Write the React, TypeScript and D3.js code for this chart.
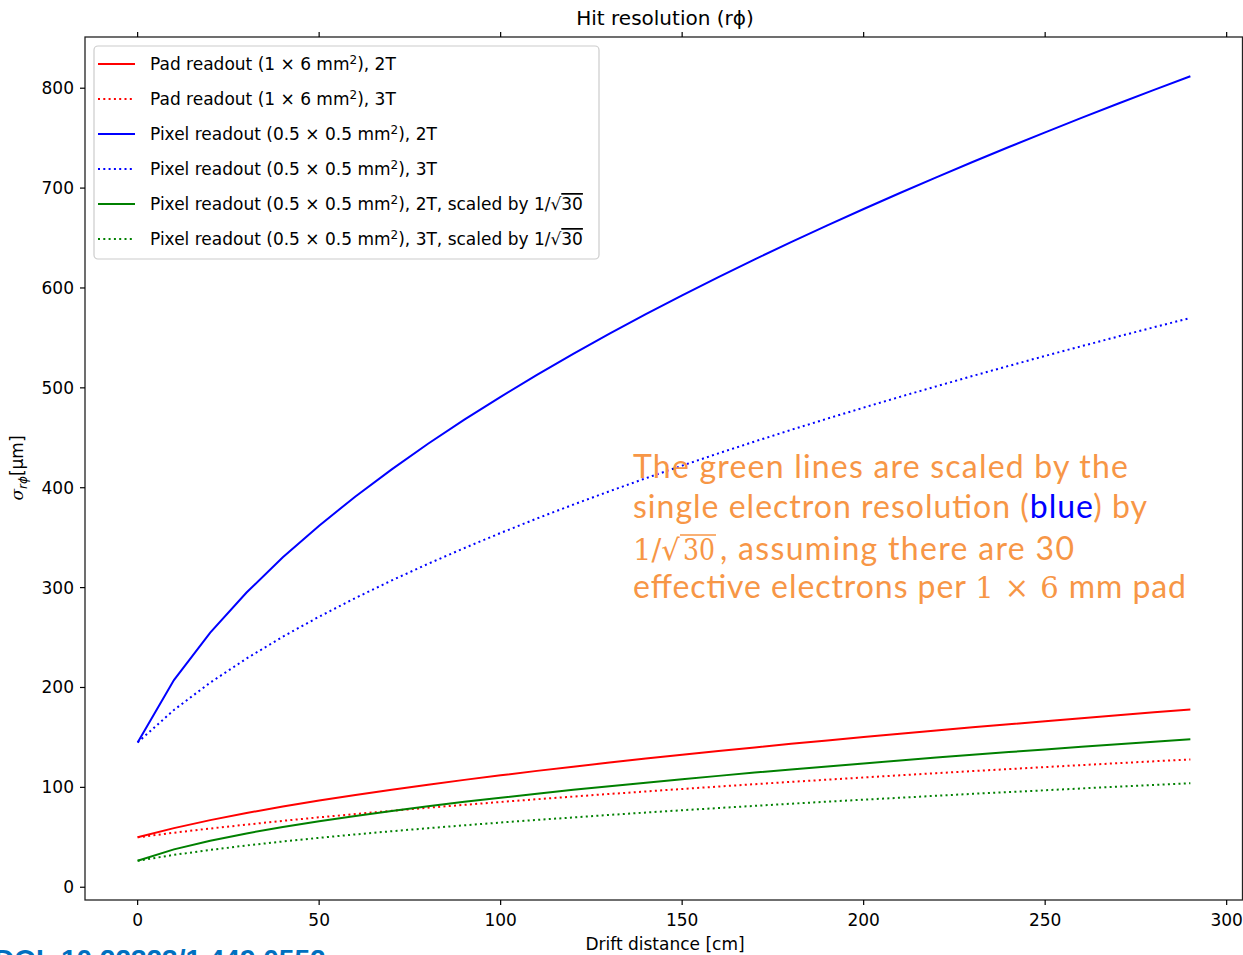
import React from 'react';
import * as d3 from 'd3';

// drift distance [cm]
const distance = [0, 10, 20, 30, 40, 50, 60, 70, 80, 90, 100, 110, 120, 130, 140, 150, 160, 170, 180, 190, 200, 210, 220, 230, 240, 250, 260, 270, 280, 290];

// sigma_rphi [um]
const padReadout2T = [50.0, 59.2, 67.2, 74.3, 80.8, 86.8, 92.4, 97.7, 102.7, 107.5, 112.1, 116.5, 120.7, 124.8, 128.8, 132.6, 136.4, 140.0, 143.6, 147.0, 150.4, 153.7, 156.9, 160.1, 163.2, 166.3, 169.3, 172.2, 175.1, 178.0];
const padReadout3T = [50.0, 54.6, 58.8, 62.7, 66.5, 70.0, 73.3, 76.5, 79.6, 82.5, 85.4, 88.1, 90.8, 93.4, 95.9, 98.4, 100.8, 103.2, 105.5, 107.7, 109.9, 112.1, 114.2, 116.3, 118.3, 120.3, 122.3, 124.2, 126.1, 128.0];
const pixelReadout2T = [145.0, 207.4, 255.0, 295.1, 330.3, 362.0, 391.3, 418.4, 444.0, 468.1, 491.0, 513.0, 534.0, 554.2, 573.7, 592.6, 610.9, 628.6, 645.9, 662.7, 679.1, 695.1, 710.8, 726.1, 741.1, 755.8, 770.3, 784.4, 798.3, 812.0];
const pixelReadout3T = [145.0, 177.5, 204.9, 229.0, 250.9, 270.9, 289.6, 307.2, 323.8, 339.6, 354.7, 369.2, 383.1, 396.5, 409.5, 422.1, 434.4, 446.3, 457.9, 469.2, 480.2, 491.0, 501.5, 511.9, 522.0, 532.0, 541.7, 551.3, 560.7, 570.0];
const pixelScaled2T = [26.5, 37.9, 46.6, 53.9, 60.3, 66.1, 71.4, 76.4, 81.1, 85.5, 89.6, 93.7, 97.5, 101.2, 104.7, 108.2, 111.5, 114.8, 117.9, 121.0, 124.0, 126.9, 129.8, 132.6, 135.3, 138.0, 140.6, 143.2, 145.7, 148.2];
const pixelScaled3T = [26.5, 32.4, 37.4, 41.8, 45.8, 49.5, 52.9, 56.1, 59.1, 62.0, 64.8, 67.4, 69.9, 72.4, 74.8, 77.1, 79.3, 81.5, 83.6, 85.7, 87.7, 89.6, 91.6, 93.5, 95.3, 97.1, 98.9, 100.7, 102.4, 104.1];

const xTicks = [0, 50, 100, 150, 200, 250, 300];
const yTicks = [0, 100, 200, 300, 400, 500, 600, 700, 800];

const W = 1243;
const H = 955;
const plot = { left: 85, right: 1243, top: 37, bottom: 900 };
const FONT = "'DejaVu Sans', sans-serif";
const FS = 17;

type Kind = 'pad' | 'pixel' | 'scaled';
const series: { values: number[]; color: string; dotted: boolean; kind: Kind; field: string }[] = [
  { values: padReadout2T, color: '#ff0000', dotted: false, kind: 'pad', field: '2T' },
  { values: padReadout3T, color: '#ff0000', dotted: true, kind: 'pad', field: '3T' },
  { values: pixelReadout2T, color: '#0000ff', dotted: false, kind: 'pixel', field: '2T' },
  { values: pixelReadout3T, color: '#0000ff', dotted: true, kind: 'pixel', field: '3T' },
  { values: pixelScaled2T, color: '#008000', dotted: false, kind: 'scaled', field: '2T' },
  { values: pixelScaled3T, color: '#008000', dotted: true, kind: 'scaled', field: '3T' },
];

function withMargin(lo: number, hi: number): [number, number] {
  const pad = (hi - lo) * 0.05;
  return [lo - pad, hi + pad];
}

const LegendLabel: React.FC<{ kind: Kind; field: string }> = ({ kind, field }) => {
  const size = kind === 'pad' ? '1 × 6 mm' : '0.5 × 0.5 mm';
  const name = kind === 'pad' ? 'Pad readout (' : 'Pixel readout (';
  return (
    <>
      {name}{size}
      <tspan dy={-6} fontSize={12}>2</tspan>
      <tspan dy={6}>{`), ${field}`}</tspan>
      {kind === 'scaled' && (
        <>
          <tspan>, scaled by 1/√</tspan>
          <tspan style={{ textDecoration: 'overline' }}>30</tspan>
        </>
      )}
    </>
  );
};

export default function App() {
  const allY = series.flatMap((s) => s.values);
  const x = d3.scaleLinear().domain(withMargin(d3.min(distance)!, d3.max(distance)!)).range([plot.left, plot.right]);
  const y = d3.scaleLinear().domain(withMargin(d3.min(allY)!, d3.max(allY)!)).range([plot.bottom, plot.top]);

  const line = d3
    .line<number>()
    .x((_, i) => x(distance[i]))
    .y((d) => y(d));

  const orange = '#f79646';
  const serif = "'DejaVu Serif', serif";

  return (
    <svg width={W} height={H} style={{ position: 'absolute', left: 0, top: 0, background: '#fff' }} fontFamily={FONT}>
      <rect x={0} y={0} width={W} height={H} fill="#fff" />

      {/* title */}
      <text x={665} y={25} textAnchor="middle" fontSize={20} fill="#000">Hit resolution (rϕ)</text>

      {/* curves */}
      <g fill="none" strokeWidth={2}>
        {series.map((s, i) => (
          <path key={i} d={line(s.values) || ''} stroke={s.color} strokeDasharray={s.dotted ? '2 3.3' : undefined} />
        ))}
      </g>

      {/* frame */}
      <rect x={plot.left} y={plot.top} width={plot.right - plot.left - 0.5} height={plot.bottom - plot.top} fill="none" stroke="#222" strokeWidth={1.3} />

      {/* x ticks bottom + top */}
      <g fontSize={FS} fill="#000" textAnchor="middle">
        {xTicks.map((t) => (
          <g key={t}>
            <line x1={x(t)} x2={x(t)} y1={plot.bottom} y2={plot.bottom + 5} stroke="#000" strokeWidth={1.2} />
            <line x1={x(t)} x2={x(t)} y1={plot.top} y2={plot.top - 5} stroke="#000" strokeWidth={1.2} />
            <text x={x(t)} y={plot.bottom + 26}>{t}</text>
          </g>
        ))}
      </g>

      {/* y ticks */}
      <g fontSize={FS} fill="#000" textAnchor="end">
        {yTicks.map((t) => (
          <g key={t}>
            <line x1={plot.left - 5} x2={plot.left} y1={y(t)} y2={y(t)} stroke="#000" strokeWidth={1.2} />
            <text x={plot.left - 11} y={y(t) + 6}>{t}</text>
          </g>
        ))}
      </g>

      {/* axis labels */}
      <text x={665} y={950} textAnchor="middle" fontSize={FS} fill="#000">Drift distance [cm]</text>
      <text transform="translate(23,468) rotate(-90)" textAnchor="middle" fontSize={FS} fill="#000">
        <tspan fontStyle="italic" fontFamily={serif}>σ</tspan>
        <tspan dy={4} fontSize={12} fontStyle="italic">rϕ</tspan>
        <tspan dy={-4}>[μm]</tspan>
      </text>

      {/* legend */}
      <g>
        <rect x={94} y={46} width={505} height={213} rx={4} fill="#fff" fillOpacity={0.8} stroke="#cccccc" strokeWidth={1.2} />
        {series.map((s, i) => {
          const cy = 64 + i * 35;
          return (
            <g key={i}>
              <line x1={98} x2={135} y1={cy} y2={cy} stroke={s.color} strokeWidth={2} strokeDasharray={s.dotted ? '2 3.3' : undefined} />
              <text x={150} y={cy + 6} fontSize={FS} fill="#000">
                <LegendLabel kind={s.kind} field={s.field} />
              </text>
            </g>
          );
        })}
      </g>

      {/* annotation */}
      <g fontFamily="'Comic Sans MS', Lato, sans-serif" fontSize={32} fill={orange}>
        <text x={633} y={478} textLength={495} lengthAdjust="spacing">The green lines are scaled by the</text>
        <text x={633} y={518} textLength={514} lengthAdjust="spacing">
          single electron resolution (<tspan fill="#0000ff">blue</tspan>) by
        </text>
        <text x={633} y={560} fontFamily={serif} fontSize={29}>1/√</text>
        <text x={683} y={560} fontFamily={serif} fontSize={29} textLength={32} lengthAdjust="spacingAndGlyphs">30</text>
        <line x1={680} x2={716} y1={535} y2={535} stroke={orange} strokeWidth={1.6} />
        <text x={720} y={560} textLength={354} lengthAdjust="spacing">, assuming there are 30</text>
        <text x={633} y={598} textLength={553} lengthAdjust="spacing">
          effective electrons per <tspan fontFamily={serif} fontSize={29}>1 × 6</tspan> mm pad
        </text>
      </g>

      {/* cut-off DOI at bottom left */}
      <text x={-6} y={969} fontSize={28} fontWeight="bold" fill="#0070c0" fontFamily="'Liberation Sans', Arial, sans-serif">DOI: 10.22323/1.449.0552</text>
    </svg>
  );
}
